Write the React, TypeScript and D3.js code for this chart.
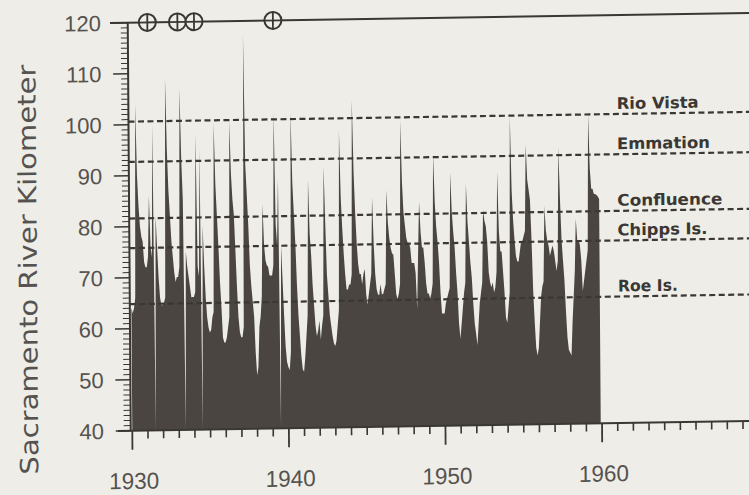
import React from 'react';
import * as d3 from 'd3';

// monthly salinity intrusion position (km), Jan..Dec, one row per year
const km1930s = [
  64, 63, 64, 66, 104, 90, 84, 80, 78, 77, 73, 72,
  72, 74, 86, 76, 74, 100, 40, 82, 76, 70, 66, 64.5,
  64.5, 65, 66, 109, 95, 87, 82, 77, 74, 71, 69, 70,
  70, 72, 107, 93, 85, 40, 75, 72, 70, 68, 66, 66,
  66, 67, 98, 72, 70, 95, 40, 80, 72, 66, 62, 60,
  59, 59.5, 62, 63, 100, 88, 82, 76, 69, 64, 58, 57,
  57, 58, 60, 62, 100.5, 90, 85, 82, 75, 68, 62, 59,
  58, 58, 60, 117.3, 92, 86, 80, 72, 68, 65, 62, 55,
  50.5, 52, 60, 62, 66, 84, 76, 73, 72, 71.7, 70, 70,
  70, 72, 102, 80, 76, 89, 40, 76, 69, 62, 56, 53,
];
const km1940s = [
  52, 51.4, 55, 102, 88, 82, 76, 68, 62, 58, 54, 51.5,
  51, 54, 58, 62, 88.7, 78, 74, 68, 64, 60, 58, 59,
  61, 57.3, 60, 62, 91.3, 80, 70, 66, 62, 60, 58, 56.5,
  56, 57, 60, 63, 98.2, 85, 79, 74, 70, 67, 67, 68,
  68, 70, 104.2, 90, 82, 76, 72, 70, 70, 68, 70, 71,
  66, 64, 66, 68, 70, 85, 76, 70, 67, 66, 65.8, 68,
  66, 66, 67, 68, 86.4, 80, 77, 75, 74, 73.7, 70, 66,
  65, 66, 68, 100.1, 88, 82, 79.5, 77, 76, 76, 75, 72,
  72, 72, 70, 63, 74, 84, 78, 75, 75, 72, 68, 66,
  66, 65, 66, 68, 93.3, 84, 79, 76, 72, 66, 62, 62,
];
const km1950s = [
  62, 64, 65, 66, 67, 89.7, 82, 78, 75, 70, 66, 60,
  57, 60, 63, 66, 68, 87.4, 80, 76, 72, 69, 64, 60,
  58, 55.7, 60, 64, 66, 68, 82.2, 80, 79, 76, 70, 68,
  67, 68, 66, 67, 70, 89.7, 78, 74, 74, 70, 66, 61,
  60, 63, 66, 100.5, 86, 80, 76, 73, 72, 72, 74, 76,
  76, 77, 78, 94.9, 88, 86, 84, 76, 66, 60, 55, 53.5,
  55, 60, 65, 67, 68, 82.8, 78, 76, 75, 73, 74, 75,
  74, 72, 70, 72, 94.3, 84, 76, 72, 68, 62, 57, 54.5,
  54, 53.4, 60, 65, 70, 80.2, 76, 76, 75, 72, 66, 68,
  70, 72, 74, 100.8, 90, 86, 86, 85, 85, 84.8, 84.5, 84,
];
const startYear = 1930;

const stationNames = ['Rio Vista', 'Emmation', 'Confluence', 'Chipps Is.', 'Roe Is.'];
const stationKm = [100.6, 92.7, 81.6, 75.8, 64.8];

const markerYears = [1931.15, 1933.07, 1934.13, 1939.17];

const yTickValues = [40, 50, 60, 70, 80, 90, 100, 110, 120];
const xTickValues = [1930, 1940, 1950, 1960];

const W = 749;
const H = 495;
const bg = '#eeede7';
const ink = '#3a3734';
const fillCol = '#4a4541';
const textCol = '#55524f';

export default function App() {
  const series = [...km1930s, ...km1940s, ...km1950s];

  const x = d3.scaleLinear().domain([1930, 1960]).range([132.3, 602.1]);
  const y = d3.scaleLinear().domain([40, 120]).range([430.7, 22.7]);

  const axisX = x(1929.9);
  const right = W + 10;

  const area = d3
    .area<number>()
    .x((d, i) => x(startYear + i / 12))
    .y0(y(40))
    .y1((d) => y(d))
    .curve(d3.curveLinear);

  const yMinor = d3.range(40, 121, 1).filter((v) => v % 10 !== 0);
  const xMinor = d3.range(1930, 1970).filter((v) => v % 10 !== 0);

  const labelWidths = [82, 93, 105, 90, 60];

  // scanned page sits slightly tilted
  const tilt = `translate(${axisX},${y(40)}) skewX(0.42) skewY(-0.9) translate(${-axisX},${-y(40)})`;

  return (
    <div style={{ position: 'absolute', left: 0, top: 0 }}>
      <svg width={W} height={H} style={{ display: 'block' }}>
        <rect width={W} height={H} fill={bg} />
        <g transform={tilt}>
          <path d={area(series) ?? ''} fill={fillCol} />

          {/* station reference lines */}
          {stationKm.map((k, i) => (
            <line
              key={stationNames[i]}
              x1={axisX}
              x2={right}
              y1={y(k)}
              y2={y(k)}
              stroke={ink}
              strokeWidth={2.2}
              strokeDasharray="6,3.5"
            />
          ))}
          {stationNames.map((s, i) => (
            <text
              key={s}
              x={619}
              y={y(stationKm[i]) - 5}
              fontFamily="DejaVu Sans"
              fontWeight="bold"
              fontSize={16}
              fill={ink}
              textLength={labelWidths[i]}
              lengthAdjust="spacingAndGlyphs"
            >
              {s}
            </text>
          ))}

          {/* axes */}
          <line x1={113} x2={right} y1={y(120)} y2={y(120)} stroke={ink} strokeWidth={2} />
          <line x1={118} x2={right} y1={y(40)} y2={y(40)} stroke={ink} strokeWidth={2} />
          <line x1={axisX} x2={axisX} y1={y(120)} y2={y(40)} stroke={ink} strokeWidth={2} />

          {yTickValues.map((v) => (
            <g key={v}>
              <line x1={axisX - 15} x2={axisX} y1={y(v)} y2={y(v)} stroke={ink} strokeWidth={1.6} />
              <text
                x={104}
                y={y(v)}
                dy="0.36em"
                textAnchor="end"
                fontFamily="Liberation Sans"
                fontSize={22}
                fill={textCol}
              >
                {v}
              </text>
            </g>
          ))}
          {yMinor.map((v) => (
            <line key={v} x1={axisX - 7} x2={axisX} y1={y(v)} y2={y(v)} stroke={ink} strokeWidth={1} />
          ))}

          {xTickValues.map((v) => (
            <g key={v}>
              <line x1={x(v)} x2={x(v)} y1={y(40)} y2={y(40) + 19} stroke={ink} strokeWidth={1.8} />
              <text
                x={x(v) + 1.5}
                y={489}
                textAnchor="middle"
                fontFamily="Liberation Sans"
                fontSize={23}
                fill={textCol}
                textLength={50}
                lengthAdjust="spacingAndGlyphs"
              >
                {v}
              </text>
            </g>
          ))}
          {xMinor.map((v) => (
            <line key={v} x1={x(v)} x2={x(v)} y1={y(40)} y2={y(40) + 8} stroke={ink} strokeWidth={1.6} />
          ))}

          {/* off-scale markers on the top line */}
          {markerYears.map((m) => (
            <g key={m}>
              <circle cx={x(m)} cy={y(120)} r={8.5} fill={bg} stroke={ink} strokeWidth={2} />
              <line x1={x(m) - 8.5} x2={x(m) + 8.5} y1={y(120)} y2={y(120)} stroke={ink} strokeWidth={1.8} />
              <line x1={x(m)} x2={x(m)} y1={y(120) - 8.5} y2={y(120) + 8.5} stroke={ink} strokeWidth={1.8} />
            </g>
          ))}

          <text
            transform={`translate(38,268) rotate(-90)`}
            textAnchor="middle"
            fontFamily="DejaVu Sans"
            fontSize={25}
            fill={textCol}
            textLength={410}
            lengthAdjust="spacingAndGlyphs"
          >
            Sacramento River Kilometer
          </text>
        </g>
      </svg>
    </div>
  );
}
